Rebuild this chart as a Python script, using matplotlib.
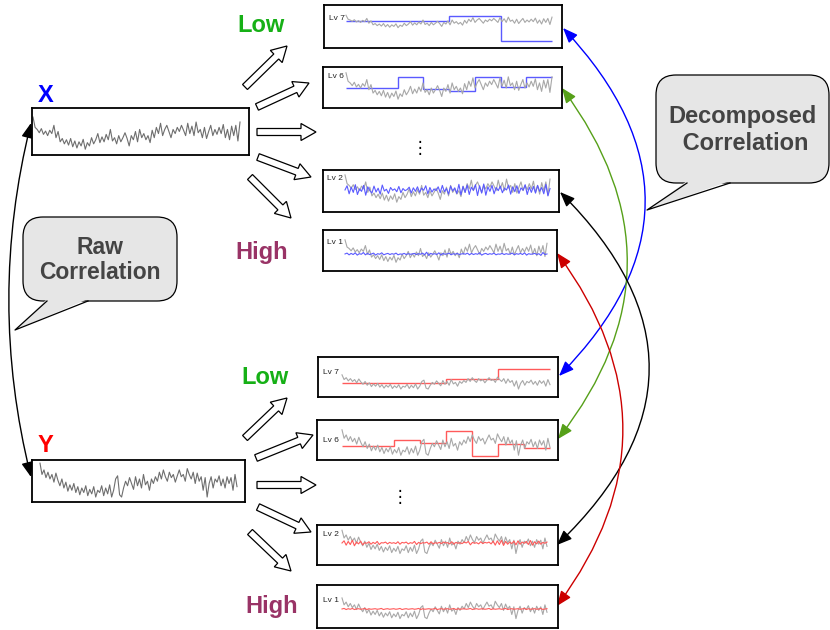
import matplotlib
matplotlib.use("Agg")
import matplotlib.pyplot as plt
import numpy as np
from matplotlib.patches import FancyArrow, FancyArrowPatch, FancyBboxPatch, Polygon

plt.rcParams['font.family'] = ['Liberation Sans', 'DejaVu Sans']

# raw signals (arbitrary units)
x_raw = [8.0, 5.5, 5.0, 4.2, 5.2, 3.8, 4.6, 3.5, 4.8, 4.0,
         6.0, 3.0, 4.5, 2.0, 2.8, 1.5, 2.5, 1.2, 2.8, 0.8,
         2.2, 0.5, 2.0, 1.0, 2.6, 0.2, 1.8, 1.0, 3.0, 1.5,
         2.5, 4.0, 1.8, 3.2, 2.0, 3.8, 2.5, 5.0, 2.2, 3.0,
         1.5, 3.5, 2.0, 3.0, 4.2, 2.8, 1.0, 3.5, 2.5, 4.5,
         2.0, 5.0, 3.0, 4.0, 2.5, 3.5, 1.8, 4.8, 3.0, 5.5,
         4.0, 6.5, 3.5, 5.0, 6.0, 4.5, 3.0, 5.0, 4.0, 5.5,
         4.5, 6.0, 4.8, 3.5, 6.5, 4.0, 5.8, 3.5, 6.8, 4.2,
         5.0, 3.0, 5.5, 2.8, 4.5, 6.0, 3.5, 5.0, 3.8, 5.5,
         4.0, 6.2, 3.0, 5.0, 2.5, 5.8, 3.5, 6.0, 2.2, 6.8]

y_raw = [8.0, 5.5, 6.5, 4.8, 6.0, 4.5, 5.5, 3.8, 5.8, 4.2,
         3.0, 4.5, 2.5, 3.8, 1.8, 3.2, 2.0, 3.5, 1.5, 2.8,
         1.0, 2.5, 1.5, 3.0, 0.8, 2.2, 1.2, 2.8, 0.5, 2.0,
         1.5, 3.0, 0.8, 2.5, 1.2, 3.2, 0.5, 2.0, 4.5, 5.2,
         1.0, 0.5, 2.5, 4.0, 3.0, 4.8, 3.5, 2.2, 5.0, 3.0,
         4.5, 2.5, 5.5, 3.2, 4.0, 2.0, 4.5, 3.5, 5.0, 4.0,
         6.0, 4.5, 6.5, 5.0, 4.0, 6.0, 4.8, 5.5, 3.8, 5.2,
         6.5, 5.0, 5.5, 4.0, 6.8, 5.5, 4.5, 6.0, 3.5, 5.8,
         4.0, 5.0, 2.0, 4.8, 0.5, 3.5, 5.0, 2.5, 4.5, 3.8,
         5.2, 3.0, 4.5, 2.5, 5.0, 3.5, 4.8, 2.0, 5.5, 2.8]

# decomposition levels of X (blue)
x_lv7 = [4.4, 4.4, 7.5, -8.1]
x_lv6 = [3.5, 3.5, 6.8, 3.2, 2.6, 6.8, 3.8, 6.8]
x_lv2 = [3.7, 4.9, 2.6, 4.5, 3.0, 5.2, 2.4, 4.0, 3.3, 5.0, 2.2, 4.6, 3.5, 2.8, 4.8, 3.1, 4.2, 2.5, 5.1, 3.4,
         3.9, 2.7, 4.4, 3.6, 4.0, 3.2, 4.7, 2.9, 4.1, 3.5, 3.8, 4.5, 2.8, 4.3, 3.3, 4.6, 3.0, 4.2, 3.6, 4.9,
         2.6, 4.4, 3.1, 4.0, 3.5, 4.6, 2.9, 5.0, 3.2, 4.1, 2.5, 4.8, 3.4, 4.3, 2.7, 5.3, 2.3, 4.7, 3.0, 5.1,
         2.4, 4.5, 3.6, 5.2, 2.1, 4.9, 2.8, 5.4, 2.2, 4.6, 3.3, 5.0, 2.6, 4.4, 3.5, 4.8, 2.9, 4.2, 3.7, 5.1,
         2.5, 4.6, 3.2, 4.9, 2.7, 4.3, 3.6, 5.2, 2.4, 4.5, 3.0, 4.7, 2.8, 5.0, 3.3, 4.4, 2.6, 5.3, 2.0, 4.1]
x_lv1 = [3.1, 3.4, 2.8, 3.3, 2.9, 3.5, 2.7, 3.2, 3.0, 3.6, 2.8, 3.3, 2.9, 3.1, 3.4, 2.7, 3.2, 3.0, 3.5, 2.8,
         3.1, 3.3, 2.9, 3.2, 3.0, 3.4, 2.8, 3.1, 3.0, 3.3, 2.9, 3.2, 3.0, 3.1, 3.3, 2.9, 3.2, 3.0, 3.4, 2.8,
         3.7, 2.6, 3.3, 3.0, 3.2, 2.9, 3.5, 2.7, 3.3, 3.0, 3.1, 3.4, 2.8, 3.2, 3.0, 3.3, 2.9, 3.1, 3.2, 3.0,
         3.4, 2.8, 3.3, 2.9, 3.2, 3.0, 3.5, 2.7, 3.1, 3.3, 2.9, 3.2, 3.0, 3.4, 2.8, 3.1, 3.0, 3.3, 2.9, 3.2,
         3.0, 3.1, 3.4, 2.8, 3.2, 3.0, 3.3, 2.9, 3.5, 2.7, 3.2, 3.0, 3.1, 3.3, 2.9, 3.2, 2.6, 3.6, 2.9, 3.1]

# decomposition levels of Y (red)
y_lv7 = [3.7, 3.7, 5.8, 11.0]
y_lv6 = [3.2, 3.2, 5.0, 4.1, 7.6, 0.3, 3.8, 2.6]
y_lv2 = [3.9, 4.6, 3.2, 4.4, 3.4, 4.8, 3.0, 4.2, 3.6, 4.5, 3.3, 4.0, 3.8, 4.3, 3.5, 4.1, 3.7, 4.4, 3.4, 4.0,
         3.9, 4.2, 3.6, 4.1, 3.8, 4.0, 3.7, 4.3, 3.5, 4.1, 3.9, 4.2, 3.6, 4.0, 3.8, 4.4, 3.4, 4.1, 3.7, 4.0,
         3.9, 4.2, 3.5, 4.3, 3.6, 4.0, 3.8, 4.1, 3.7, 4.2, 3.9, 4.0, 3.6, 4.3, 3.5, 4.1, 3.8, 4.0, 3.7, 4.2,
         3.9, 4.4, 3.3, 4.1, 3.8, 4.0, 3.6, 4.3, 3.7, 4.1, 3.9, 4.2, 3.6, 4.5, 3.2, 4.6, 3.4, 4.8, 3.1, 4.4,
         3.5, 4.2, 3.7, 4.5, 3.3, 4.6, 3.5, 4.2, 3.8, 4.4, 3.4, 4.7, 3.2, 4.3, 3.6, 4.5, 3.5, 4.1, 3.8, 4.2]
y_lv1 = [4.0, 4.2, 3.8, 4.1, 3.9, 4.2, 3.8, 4.0, 4.1, 3.9, 4.0, 4.2, 3.8, 4.1, 3.9, 4.0, 4.1, 3.9, 4.0, 4.2,
         3.8, 4.0, 4.1, 3.9, 4.0, 4.1, 3.9, 4.0, 4.2, 3.8, 4.0, 4.1, 3.9, 4.0, 4.1, 3.9, 4.0, 4.2, 3.8, 4.1,
         3.9, 4.0, 4.1, 3.9, 4.0, 4.2, 3.8, 4.0, 4.1, 3.9, 4.0, 4.1, 3.9, 4.0, 4.2, 3.8, 4.1, 3.9, 4.0, 4.1,
         3.9, 4.0, 4.2, 3.8, 4.0, 4.1, 3.9, 4.0, 4.1, 3.9, 4.0, 4.2, 3.8, 4.1, 3.9, 4.0, 4.1, 3.9, 4.0, 4.2,
         3.8, 4.0, 4.1, 3.9, 4.0, 4.1, 3.9, 4.0, 4.2, 3.8, 4.1, 3.9, 4.0, 4.1, 3.9, 4.0, 4.2, 3.8, 4.0, 4.1]

W, H = 830, 630
fig = plt.figure(figsize=(W / 100, H / 100), dpi=100)
ax = fig.add_axes([0, 0, 1, 1])
ax.set_xlim(0, W)
ax.set_ylim(H, 0)
ax.axis('off')

BLUE = '#5a5aff'
RED = '#ff5a5a'


def panel(box, span, ylim, raw, gray='#a8a8a8', label=None, lab_xy=None,
          steps=None, detail=None, color=None):
    x0, y0, x1, y1 = box
    a = fig.add_axes([x0 / W, 1 - y1 / H, (x1 - x0) / W, (y1 - y0) / H])
    n = len(raw) - 1
    sx0, sx1 = span
    a.set_xlim(-(sx0 - x0) / (sx1 - sx0) * n, n + (x1 - sx1) / (sx1 - sx0) * n)
    a.set_ylim(*ylim)
    a.plot(np.arange(len(raw)), raw, color=gray, lw=0.8)
    if steps is not None:
        edges = np.linspace(0, n, len(steps) + 1)
        a.stairs(steps, edges, baseline=None, color=color, lw=1.0)
    if detail is not None:
        a.plot(np.linspace(0, n, len(detail)), detail, color=color, lw=0.8)
    if label:
        a.text((lab_xy[0] - x0) / (x1 - x0), 1 - (lab_xy[1] - y0) / (y1 - y0), label,
               transform=a.transAxes, ha='center', va='center', fontsize=6, color='#222222')
    a.set_xticks([])
    a.set_yticks([])
    for s in a.spines.values():
        s.set_linewidth(1.3)
    return a


# raw boxes
panel((32, 108, 249, 155), (33, 240), (-1.2, 10.2), x_raw, gray='#6e6e6e')
panel((32, 460, 245, 502), (40, 237), (-0.6, 8.7), y_raw, gray='#6e6e6e')

# X levels
panel((324, 5, 562, 48), (346, 552), (-12.5, 14.4), x_raw, label='Lv 7', lab_xy=(337, 19),
      steps=x_lv7, color=BLUE)
panel((323, 67, 562, 108), (346, 552), (-2.4, 9.7), x_raw, label='Lv 6', lab_xy=(336, 77),
      steps=x_lv6, color=BLUE)
panel((323, 170, 559, 212), (345, 550), (-2.6, 9.4), x_raw, label='Lv 2', lab_xy=(335, 179),
      detail=x_lv2, color=BLUE)
panel((323, 230, 557, 271), (345, 547), (-2.8, 11.4), x_raw, label='Lv 1', lab_xy=(335, 242),
      detail=x_lv1, color=BLUE)

# Y levels
panel((318, 357, 558, 397), (342, 550), (-3.7, 17.4), y_raw, label='Lv 7', lab_xy=(331, 372),
      steps=y_lv7, color=RED)
panel((317, 420, 558, 460), (342, 550), (-0.9, 10.9), y_raw, label='Lv 6', lab_xy=(331, 440),
      steps=y_lv6, color=RED)
panel((317, 525, 558, 565), (342, 547), (-3.2, 9.7), y_raw, label='Lv 2', lab_xy=(331, 534),
      detail=y_lv2, color=RED)
panel((317, 585, 558, 628), (342, 547), (-2.9, 12.7), y_raw, label='Lv 1', lab_xy=(331, 600),
      detail=y_lv1, color=RED)

# labels
ax.text(46, 95, 'X', color='#0000ff', fontsize=17, fontweight='bold', ha='center', va='center')
ax.text(45, 446, 'Y', color='#ff0000', fontsize=17, fontweight='bold', ha='center', va='center')
GREEN_T = '#16b016'
MAROON = '#993366'
ax.text(261, 25, 'Low', color=GREEN_T, fontsize=17, fontweight='bold', ha='center', va='center')
ax.text(262, 253, 'High', color=MAROON, fontsize=17, fontweight='bold', ha='center', va='center')
ax.text(265, 378, 'Low', color=GREEN_T, fontsize=17, fontweight='bold', ha='center', va='center')
ax.text(272, 606, 'High', color=MAROON, fontsize=17, fontweight='bold', ha='center', va='center')
ax.text(420, 148, '\u22ee', fontsize=12, ha='center', va='center', family='DejaVu Sans')
ax.text(400, 497, '\u22ee', fontsize=12, ha='center', va='center', family='DejaVu Sans')

# hollow fan arrows
fan = [((245, 87), (287, 46)), ((257, 107), (309, 83)), ((257, 132), (316, 132)),
       ((258, 157), (311, 177)), ((250, 177), (291, 218)),
       ((245, 438), (287, 398)), ((256, 458), (313, 435)), ((257, 485), (316, 485)),
       ((258, 507), (311, 532)), ((250, 532), (291, 571))]
for (tx, ty), (hx, hy) in fan:
    ax.add_patch(FancyArrow(tx, ty, hx - tx, hy - ty, width=7, head_width=17, head_length=15,
                            length_includes_head=True, facecolor='white', edgecolor='black', lw=0.9))

# speech bubbles
def bubble(x0, y0, x1, y1, a, tip, b, lines, size, gap, dy=0):
    ax.add_patch(FancyBboxPatch((x0, y0), x1 - x0, y1 - y0, boxstyle='round,pad=0,rounding_size=20',
                                facecolor='#e6e6e6', edgecolor='black', lw=0.9, zorder=3))
    ax.add_patch(Polygon([(a[0], a[1] - 2), tip, (b[0], b[1] - 2)], closed=True,
                         facecolor='#e6e6e6', edgecolor='none', zorder=4))
    ax.plot([a[0], tip[0], b[0]], [a[1], tip[1], b[1]], color='black', lw=0.9, zorder=5)
    cx = (x0 + x1) / 2
    n = len(lines)
    for i, t in enumerate(lines):
        ax.text(cx, (y0 + y1) / 2 + dy + (i - (n - 1) / 2) * gap, t, ha='center', va='center',
                fontsize=size, fontweight='bold', color='#444444', zorder=6)


bubble(23, 217, 177, 301, (47, 301), (15, 330), (88, 301), ['Raw', 'Correlation'], 16.5, 25, 1)
bubble(656, 75, 829, 183, (687, 183), (647, 210), (730, 183), ['Decomposed', ' Correlation'], 17, 27, 1)

# curved double arrows
def link(p, q, rad, color):
    ax.add_patch(FancyArrowPatch(p, q, connectionstyle=f'arc3,rad={rad}',
                                 arrowstyle='<|-|>,head_length=0.75,head_width=0.3',
                                 mutation_scale=12, color=color, lw=1.0, shrinkA=0, shrinkB=0, zorder=2))


link((31, 123), (31, 477), 0.124, 'black')
link((563, 28), (559, 376), -0.48, '#0000ff')
link((562, 88), (558, 439), -0.38, '#56a019')
link((560, 192), (557, 545), -0.51, 'black')
link((557, 253), (557, 606), -0.37, '#cc0000')

fig.savefig('out.png', dpi=100)
